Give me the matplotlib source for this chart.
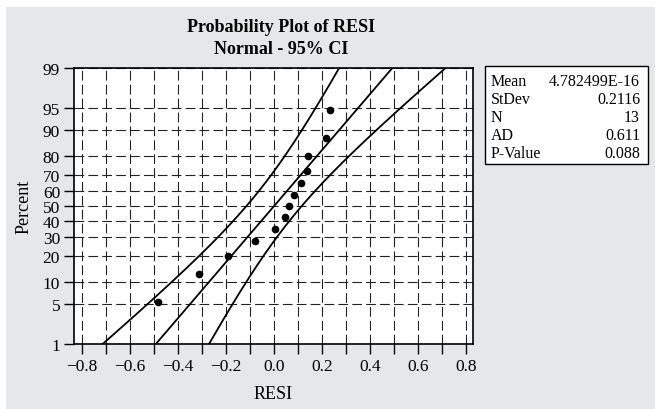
import matplotlib
matplotlib.use("Agg")
import matplotlib.pyplot as plt
from matplotlib.patches import Rectangle
from matplotlib.ticker import NullLocator, FixedLocator
from statistics import NormalDist
import numpy as np

# residuals and their plotting positions (percent)
resi = [-0.485, -0.313, -0.191, -0.080, 0.004, 0.045, 0.064,
        0.083, 0.110, 0.137, 0.141, 0.214, 0.234]
percent = [5.2, 12.7, 20.1, 27.6, 35.1, 42.5, 50.0,
           57.5, 64.9, 72.4, 79.9, 87.3, 94.8]

pct_ticks = [1, 5, 10, 20, 30, 40, 50, 60, 70, 80, 90, 95, 99]
x_ticks = [-0.8, -0.6, -0.4, -0.2, 0.0, 0.2, 0.4, 0.6, 0.8]
x_grid = [-0.8, -0.7, -0.6, -0.5, -0.4, -0.3, -0.2, -0.1, 0.0,
          0.1, 0.2, 0.3, 0.4, 0.5, 0.6, 0.7, 0.8]

stat_names = ["Mean", "StDev", "N", "AD", "P-Value"]
stat_values = ["4.782499E-16", "0.2116", "13", "0.611", "0.088"]

# fitted normal from the stats box
mu, sigma, n = 0.0, 0.2116, 13

plt.rcParams["font.family"] = ["Liberation Serif", "DejaVu Serif"]
plt.rcParams["lines.scale_dashes"] = False

_nd = NormalDist()
_ppf = np.vectorize(_nd.inv_cdf, otypes=[float])
_cdf = np.vectorize(_nd.cdf, otypes=[float])


def fwd(p):
    p = np.clip(np.asarray(p, dtype=float) / 100.0, 1e-9, 1 - 1e-9)
    return _ppf(p)


def inv(z):
    return _cdf(np.asarray(z, dtype=float)) * 100.0


W, H = 655, 410
fig = plt.figure(figsize=(W / 100, H / 100), dpi=100, facecolor="white")
fig.add_artist(Rectangle((6 / W, 0), 1, 1 - 8 / H, transform=fig.transFigure,
                         facecolor="#e6e7e8", edgecolor="none", zorder=0))

ax = fig.add_axes([74 / W, 65 / H, 399 / W, 276 / H])
ax.set_facecolor("white")
ax.set_yscale("function", functions=(fwd, inv))

# fitted line and 95% confidence band
z = np.linspace(-3.2, 3.2, 400)
p = inv(z)
xfit = mu + sigma * z
se = sigma * np.sqrt((1 + z ** 2 / 2) / n)
for xs in (xfit, xfit - 1.96 * se, xfit + 1.96 * se):
    ax.plot(xs, p, color="black", lw=1.3, zorder=3)

ax.plot(resi, percent, "o", color="black", ms=4.5, zorder=4)

ax.set_xlim(-0.833, 0.828)
ax.set_ylim(1, 99)
ax.set_xticks(x_ticks)
ax.set_xticklabels([f"{v:.1f}".replace("-", "\u2212") for v in x_ticks])
ax.xaxis.set_minor_locator(FixedLocator(x_grid))
ax.set_yticks(pct_ticks)
ax.set_yticklabels([str(v) for v in pct_ticks])
ax.yaxis.set_minor_locator(NullLocator())

ax.tick_params(which="major", direction="out", length=7, width=1,
               labelsize=12.5, colors="black", pad=3)
ax.tick_params(which="minor", direction="out", length=7, width=1)
grid_kw = dict(color="#222222", lw=0.8, linestyle=(0, (7.0, 3.0)))
ax.grid(True, which="both", axis="x", **grid_kw)
ax.grid(True, which="major", axis="y", **grid_kw)
for s in ax.spines.values():
    s.set_linewidth(1.2)
    s.set_color("black")

ax.set_xlabel("RESI", fontsize=13, labelpad=8)
ax.set_ylabel("Percent", fontsize=13, labelpad=7)

fig.text(281 / W, 1 - 27 / H, "Probability Plot of RESI", ha="center",
         va="center", fontsize=13, fontweight="bold")
fig.text(281 / W, 1 - 49 / H, "Normal - 95% CI", ha="center",
         va="center", fontsize=13, fontweight="bold")

# stats box
fig.add_artist(Rectangle((485 / W, 1 - 165 / H), 163 / W, 98 / H,
                         transform=fig.transFigure, facecolor="white",
                         edgecolor="black", lw=1.0, zorder=2))
rows_y = [82, 100, 118, 136, 154]
for name, val, yy in zip(stat_names, stat_values, rows_y):
    fig.text(491 / W, 1 - yy / H, name, ha="left", va="center", fontsize=11.5, zorder=3)
    fig.text(640 / W, 1 - yy / H, val, ha="right", va="center", fontsize=11.5, zorder=3)

fig.savefig("out.png", dpi=100)
